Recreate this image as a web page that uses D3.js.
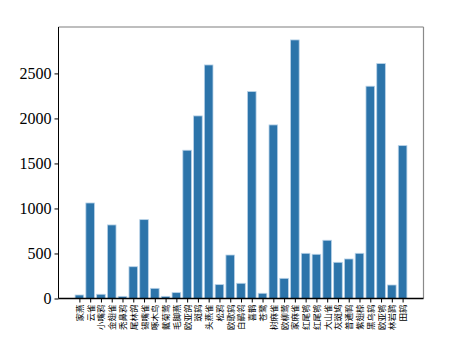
<!DOCTYPE html>
<html><head><meta charset="utf-8">
<script src="https://cdn.jsdelivr.net/npm/d3@7"></script>
<style>body{margin:0;background:#fff}svg{display:block}
.ytick text{font-family:"Times New Roman","Liberation Serif","DejaVu Serif",serif !important;}
</style>
</head><body><div id="chart"></div>
<script>
const categories = ["家燕","云雀","小嘴鸦","金翅雀","秃鼻鸦","尾林鸽","锡嘴雀","啄木鸟","戴菊莺","毛脚燕","欧亚鸽","斑鸫","头燕雀","松鸦","欧歌鸫","白鹡鸰","喜鹊","苍鹭","树麻雀","欧柳莺","家麻雀","红尾鸲","红尾鸲","大山雀","灰斑鸠","普通䴓","紫翅椋","黑乌鸫","欧亚鸲","林岩鹨","田鸫"];
const values = [39,1061,47,817,24,353,876,113,24,65,1647,2028,2594,154,483,169,2298,58,1928,224,2872,502,491,647,402,439,502,2358,2609,150,1698];
const yTicks = [0,500,1000,1500,2000,2500];

const W = 453, H = 348;
const L = 58.5, R = 423.5, T = 27, B = 298.5;
const svg = d3.select("#chart").append("svg").attr("width", W).attr("height", H);

const n = categories.length;
const pad = (n - 1 + 0.8) * 0.05;
const x = d3.scaleLinear().domain([-0.4 - pad, n - 1 + 0.4 + pad]).range([L, R]);
const y = d3.scaleLinear().domain([0, d3.max(values) * 1.05]).range([B, T]);
const bw = x(0.8) - x(0);

svg.append("g").selectAll("rect").data(values).join("rect")
  .attr("x", (d, i) => x(i - 0.4))
  .attr("y", d => y(d))
  .attr("width", bw)
  .attr("height", d => B - y(d))
  .attr("fill", "#2c74aa")
  .attr("stroke", "#b8d2e8")
  .attr("stroke-width", 0.8);

// spines
svg.append("line").attr("x1", L).attr("x2", R).attr("y1", T).attr("y2", T).attr("stroke", "#a8a8a8").attr("stroke-width", 1.6);
svg.append("line").attr("x1", R).attr("x2", R).attr("y1", T).attr("y2", B).attr("stroke", "#8a8a8a").attr("stroke-width", 1.2);

// y axis
const ya = svg.append("g").attr("class", "ytick").attr("transform", `translate(${L},0)`)
  .call(d3.axisLeft(y).tickValues(yTicks).tickSize(4).tickPadding(3).tickSizeOuter(0).tickFormat(d3.format("d")));
ya.attr("font-family", null);
ya.select(".domain").attr("stroke", "#000").attr("d", `M0,${T}V${B}`);
ya.selectAll("text").style("font-size", "16px").attr("fill", "#000");

// x axis
const xa = svg.append("g").attr("transform", `translate(0,${B})`)
  .call(d3.axisBottom(x).tickValues(d3.range(n)).tickSize(4).tickSizeOuter(0).tickFormat(i => categories[i]));
xa.select(".domain").attr("stroke", "#000").attr("stroke-width", 1.4).attr("d", `M${L},0H${R}`);
xa.selectAll("text")
  .style("font-family", "'Noto Sans CJK SC', sans-serif")
  .style("font-size", "8.5px")
  .attr("fill", "#000")
  .attr("text-anchor", "end")
  .attr("dy", "0.35em")
  .attr("transform", "translate(0,6) rotate(-90)")
  .attr("y", 0).attr("x", 0);
</script></body></html>
